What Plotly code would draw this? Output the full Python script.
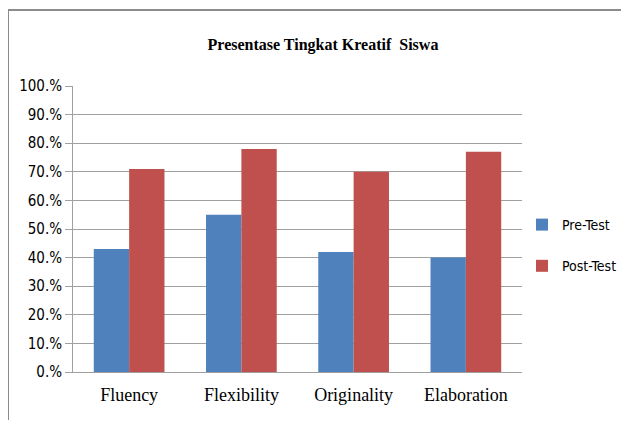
import plotly.graph_objects as go

categories = ["Fluency", "Flexibility", "Originality", "Elaboration"]
pre_test = [43, 55, 42, 40]
post_test = [71, 78, 70, 77]
tick_vals = [0, 10, 20, 30, 40, 50, 60, 70, 80, 90, 100]
tick_text = ["0.%", "10.%", "20.%", "30.%", "40.%", "50.%", "60.%", "70.%", "80.%", "90.%", "100.%"]

OFF = 8  # page body margin
W, H = 613, 412
# plot area in page pixels
PX0, PX1, PY0, PY1 = 73, 522, 86, 372
L, R = PX0 - OFF, W - (PX1 - OFF)
T, B = PY0 - OFF, H - (PY1 - OFF)
pw, ph = PX1 - PX0, PY1 - PY0
NARROW = "Liberation Sans Narrow, Arial Narrow, DejaVu Sans Condensed, Liberation Sans"

def px_x(p):
    return (p - PX0) / pw

def px_y(p):
    return (PY1 - p) / ph

fig = go.Figure()
fig.add_trace(go.Bar(x=categories, y=pre_test, name="Pre-Test",
                     marker=dict(color="#4F81BD", line=dict(width=0)), legendgroup="a"))
fig.add_trace(go.Bar(x=categories, y=post_test, name="Post-Test",
                     marker=dict(color="#C0504D", line=dict(width=0)), legendgroup="b"))

fig.update_layout(
    width=W, height=H,
    margin=dict(l=L, r=R, t=T, b=B, pad=0, autoexpand=False),
    paper_bgcolor="white", plot_bgcolor="white",
    barmode="group", bargap=0.37, bargroupgap=0,
    title=dict(text="<b>Presentase Tingkat Kreatif  Siswa</b>",
               font=dict(family="Liberation Serif", size=16, color="black"),
               x=(323 - OFF) / W, xanchor="center", y=1 - (44 - OFF) / H, yanchor="middle"),
    legend=dict(x=px_x(522), xanchor="left", y=px_y(209), yanchor="top",
                font=dict(family=NARROW, size=14, color="black"),
                tracegroupgap=20, itemwidth=30, bgcolor="rgba(0,0,0,0)"),
    font=dict(family=NARROW, color="black"),
    xaxis=dict(showgrid=False, showline=True, linecolor="#A0A0A0", linewidth=1,
               ticks="outside", ticklen=6, tickcolor="rgba(0,0,0,0)",
               tickfont=dict(family="Liberation Serif", size=18, color="black")),
    yaxis=dict(range=[0, 100], tickvals=tick_vals, ticktext=tick_text,
               showgrid=True, gridcolor="#A0A0A0", gridwidth=1,
               showline=True, linecolor="#A0A0A0", linewidth=1,
               ticks="outside", ticklen=7, tickcolor="#A0A0A0",
               tickfont=dict(family=NARROW, size=15, color="black"),
               zeroline=False),
)

# chart frame
fig.add_shape(type="line", xref="paper", yref="paper",
              x0=px_x(8), x1=px_x(640), y0=px_y(10), y1=px_y(10),
              line=dict(color="#8C8C8C", width=2))
fig.add_shape(type="line", xref="paper", yref="paper",
              x0=px_x(8), x1=px_x(8), y0=px_y(10), y1=px_y(440),
              line=dict(color="#8C8C8C", width=2))

fig.write_html("out.html")
